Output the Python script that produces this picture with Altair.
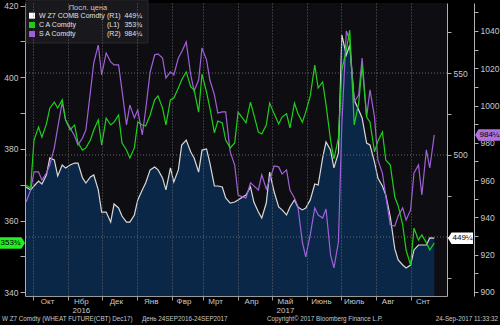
import altair as alt
import pandas as pd

# ---------------- data ----------------
wheat_r1 = [480.5, 478.7, 481.1, 484.1, 482.3, 487.8, 498.2, 497.0, 487.2, 493.9,
            492.1, 493.9, 495.1, 495.1, 486.0, 482.9, 486.6, 487.8, 478.7, 465.2,
            465.2, 459.1, 470.1, 467.7, 462.8, 459.1, 459.1, 463.4, 472.6, 478.7,
            482.9, 490.9, 492.7, 490.9, 486.0, 478.7, 492.1, 483.5, 490.9, 506.1,
            509.1, 501.8, 498.2, 489.6, 503.0, 503.7, 495.1, 481.1, 481.1, 480.5,
            473.8, 470.7, 471.3, 472.6, 474.4, 475.6, 480.5, 471.3, 465.2, 461.6,
            470.7, 489.6, 477.4, 468.3, 466.5, 463.4, 468.3, 472.6, 468.3, 466.5,
            467.7, 472.6, 482.3, 481.7, 498.2, 507.9, 503.0, 492.1, 501.2, 573.2,
            561.0, 567.1, 533.5, 527.4, 522.6, 507.3, 506.1, 495.7, 486.0, 481.1,
            475.6, 462.2, 442.7, 436.0, 432.9, 431.1, 432.9, 442.1, 445.1, 445.1,
            445.1, 449.4, 449.25]

corn_l1 = [369.9, 369.1, 382.5, 386.1, 383.3, 387.0, 391.4, 393.1, 391.4, 393.7,
           388.1, 385.3, 386.7, 381.7, 379.7, 380.3, 382.5, 385.3, 388.1, 381.1,
           388.6, 386.7, 387.5, 389.5, 381.7, 379.7, 377.5, 380.3, 387.5, 386.7,
           386.4, 389.5, 393.7, 394.8, 391.4, 386.7, 393.7, 394.2, 397.0, 399.3,
           401.5, 397.3, 396.5, 390.3, 400.9, 395.9, 391.4, 384.5, 387.8, 387.3,
           382.5, 380.3, 381.7, 390.3, 388.6, 387.3, 393.1, 389.5, 384.7, 384.2,
           386.7, 392.8, 389.8, 387.0, 388.9, 389.8, 385.9, 392.8, 390.0, 387.5,
           390.3, 394.8, 403.4, 397.0, 398.7, 392.3, 382.5, 377.2, 383.1, 402.0,
           407.6, 413.2, 386.7, 392.8, 403.4, 388.9, 387.5, 379.2, 382.2, 384.7,
           376.9, 375.5, 366.6, 364.1, 358.8, 351.8, 347.6, 357.9, 354.6, 356.0,
           353.8, 351.8, 353.75]

soy_r2 = [948.3, 954.7, 964.4, 964.4, 960.1, 963.8, 968.1, 977.3, 988.0, 1001.9,
          992.3, 988.0, 983.7, 978.9, 982.6, 986.9, 1007.3, 1022.9, 1032.5, 1016.4,
          1028.2, 1023.4, 1021.8, 1021.8, 1008.4, 989.6, 1000.3, 993.4, 997.6, 984.2,
          997.6, 1018.0, 1027.2, 1027.7, 1025.5, 1014.8, 1018.0, 1016.4, 1025.5, 1028.8,
          1034.1, 1016.4, 1007.8, 1013.7, 1030.9, 1024.5, 1013.7, 1005.7, 996.0, 996.6,
          996.6, 975.1, 968.1, 952.0, 951.0, 950.4, 958.5, 956.9, 954.7, 962.8,
          955.3, 960.1, 967.6, 967.1, 963.3, 965.5, 954.7, 950.4, 946.1, 926.8,
          918.8, 930.6, 945.1, 941.3, 939.7, 944.5, 919.9, 912.9, 926.8, 989.6,
          1040.0, 1035.2, 1001.9, 1005.7, 1025.5, 993.9, 1008.4, 993.9, 970.8, 963.8,
          951.5, 935.9, 935.4, 940.8, 945.1, 938.6, 944.0, 963.8, 968.1, 952.0,
          976.2, 966.5, 984.25]

sample_dates = (pd.date_range("2016-09-25", "2017-09-22", periods=len(wheat_r1))
                .round("D").strftime("%Y-%m-%d").tolist())

month_starts = ["2016-10-01", "2016-11-01", "2016-12-01", "2017-01-01", "2017-02-01",
                "2017-03-01", "2017-04-01", "2017-05-01", "2017-06-01", "2017-07-01",
                "2017-08-01", "2017-09-01"]
month_names = ["Окт", "Нбр", "Дек", "Янв", "Фвр", "Мрт", "Апр", "Май", "Июнь", "Июль", "Авг", "Снт"]
month_label_dates = ["2016-10-14", "2016-11-13", "2016-12-14", "2017-01-14", "2017-02-12",
                     "2017-03-12", "2017-04-13", "2017-05-13", "2017-06-14", "2017-07-13",
                     "2017-08-12", "2017-09-12"]
year_names = ["2016", "2017"]
year_dates = ["2016-11-13", "2017-05-13"]

last_values = [449.25, 353.75, 984.25]
last_labels = ["449¼", "353¾", "984¼"]
legend_names = ["W Z7 COMB Comdty", "C A Comdty", "S A Comdty"]
legend_axes = ["(R1)", "(L1)", "(R2)"]
series_colors = ["#ffffff", "#1fd01a", "#a060d8"]

footer = ["W Z7 Comdty (WHEAT FUTURE(CBT) Dec17)", "День 24SEP2016-24SEP2017",
          "Copyright© 2017 Bloomberg Finance L.P.", "24-Sep-2017 11:33:32"]

FONT = "Liberation Sans"
AX = "#c8c8c8"


def ms(s):
    return int(pd.Timestamp(s, tz="UTC").timestamp() * 1000)


df = pd.DataFrame({"date": sample_dates, "wheat": wheat_r1, "corn": corn_l1, "soy": soy_r2})

x_scale = alt.Scale(type="utc", domain=[ms("2016-09-24"), ms("2017-10-03T07:00")])
x_axis = alt.Axis(values=[ms(d) for d in month_starts], labels=False, title=None,
                  tickSize=4, tickColor="#9a9a9a", domainColor="#9a9a9a",
                  grid=True, gridColor="#707070", gridDash=[1, 2], gridOpacity=0.9, zindex=1)
X = alt.X("date:T", scale=x_scale, axis=x_axis)

r1_scale = alt.Scale(domain=[414.0, 592.7], nice=False, zero=False)
l1_scale = alt.Scale(domain=[338.97, 420.74], nice=False, zero=False)
r2_scale = alt.Scale(domain=[897.85, 1055.0], nice=False, zero=False)

common_axis = dict(title=None, grid=False, domainColor="#b0b0b0", tickColor="#b0b0b0",
                   labelColor=AX, labelFont=FONT, labelFontSize=8.5, labelPadding=2, format="d")
r1_axis = alt.Axis(orient="right", values=[425, 450, 475, 500, 525, 550, 575], tickSize=4,
                   labelExpr="datum.value == 500 || datum.value == 550 ? datum.label : ''",
                   **common_axis)
l1_axis = alt.Axis(orient="left", values=list(range(340, 421, 10)), tickSize=5,
                   labelExpr="datum.value % 20 == 0 ? datum.label : ''", **common_axis)
r2_axis = alt.Axis(orient="right", offset=27, values=list(range(900, 1051, 10)), tickSize=4,
                   labelExpr="datum.value % 20 == 0 ? datum.label : ''", **common_axis)

LEFT_FLAG = "M-1,0 L-0.72,-0.46 L1,-0.46 L1,0.46 L-0.72,0.46 Z"
RIGHT_FLAG = "M-1,-0.46 L0.72,-0.46 L1,0 L0.72,0.46 L-1,0.46 Z"


def flag(value, label, scale, axis, color, shape, xc, xt):
    d = pd.DataFrame({"v": [value], "t": [label]})
    y = alt.Y("v:Q", scale=scale, axis=axis)
    box = alt.Chart(d).mark_point(shape=shape, size=625, filled=True, opacity=1,
                                  color=color).encode(x=alt.value(xc), y=y)
    txt = alt.Chart(d).mark_text(font=FONT, fontSize=8, color="#000000", align="center",
                                 baseline="middle").encode(x=alt.value(xt), y=y, text="t:N")
    return box + txt


# wheat (R1) with area, horizontal grid
wheat_area = alt.Chart(df).mark_area(
    color="#0b2747", opacity=1, clip=True,
    line={"color": "#d8d8d8", "strokeWidth": 1.2}
).encode(x=X, y=alt.Y("wheat:Q", scale=r1_scale, axis=r1_axis))
hgrid = alt.Chart(pd.DataFrame({"g": [450, 500, 550]})).mark_rule(
    color="#707070", strokeDash=[1, 2], strokeWidth=1, opacity=0.9
).encode(y=alt.Y("g:Q", scale=r1_scale, axis=r1_axis))
wheat_group = alt.layer(wheat_area, hgrid,
                        flag(last_values[0], last_labels[0], r1_scale, r1_axis, "#ffffff",
                             LEFT_FLAG, 435.5, 437.5))

soy_line = alt.Chart(df).mark_line(color=series_colors[2], strokeWidth=1.2, clip=True).encode(
    x=X, y=alt.Y("soy:Q", scale=r2_scale, axis=r2_axis))
soy_group = alt.layer(soy_line,
                      flag(last_values[2], last_labels[2], r2_scale, r2_axis, "#b070e0",
                           LEFT_FLAG, 462.5, 464.5))

corn_line = alt.Chart(df).mark_line(color=series_colors[1], strokeWidth=1.2, clip=True).encode(
    x=X, y=alt.Y("corn:Q", scale=l1_scale, axis=l1_axis))
corn_group = alt.layer(corn_line,
                       flag(last_values[1], last_labels[1], l1_scale, l1_axis, "#22ee22",
                            RIGHT_FLAG, -12.5, -14.5))


def txt(text, x, y, size=8, color=AX, align="left", weight="normal"):
    return alt.Chart(pd.DataFrame({"t": [text]})).mark_text(
        font=FONT, fontSize=size, color=color, align=align, baseline="middle",
        fontWeight=weight).encode(x=alt.value(x), y=alt.value(y), text="t:N")


month_df = pd.DataFrame({"date": month_label_dates, "name": month_names})
month_text = alt.Chart(month_df).mark_text(font=FONT, fontSize=8, color=AX, baseline="middle").encode(
    x=X, y=alt.value(299), text="name:N")
year_df = pd.DataFrame({"date": year_dates, "name": year_names})
year_text = alt.Chart(year_df).mark_text(font=FONT, fontSize=8, color=AX, baseline="middle").encode(
    x=X, y=alt.value(308), text="name:N")

# legend box
legend_box = alt.Chart(pd.DataFrame({"a": [0]})).mark_rect(
    color="#1b1b1e", opacity=0.92, stroke="#2a2a2e").encode(
    x=alt.value(1), x2=alt.value(123), y=alt.value(-3), y2=alt.value(40))
legend_layers = [legend_box, txt("Посл. цена", 63, 5, size=7.5, align="center")]
row_y = [12.7, 22, 31]
for i in range(3):
    legend_layers.append(
        alt.Chart(pd.DataFrame({"a": [0]})).mark_rect(color=series_colors[i]).encode(
            x=alt.value(4), x2=alt.value(10), y=alt.value(row_y[i] - 3), y2=alt.value(row_y[i] + 3)))
    legend_layers.append(txt(legend_names[i], 14, row_y[i], size=7, color="#e0e0e0"))
    legend_layers.append(txt(legend_axes[i], 82, row_y[i], size=7, color="#e0e0e0"))
    legend_layers.append(txt(last_labels[i], 117, row_y[i], size=7, color="#e0e0e0", align="right"))

footer_layers = [
    txt(footer[0], -23, 316, size=6.3, color=AX),
    txt(footer[1], 117, 316, size=6.3, color=AX),
    txt(footer[2], 242, 316, size=6.3, color=AX),
    txt(footer[3], 473, 316, size=6.3, color=AX, align="right"),
]

chart = alt.layer(
    wheat_group, soy_group, corn_group, month_text, year_text,
    *legend_layers, *footer_layers
).resolve_scale(y="independent").properties(
    width=422, height=293,
    autosize=alt.AutoSizeParams(type="none"),
    padding={"left": 25, "top": 3, "right": 53, "bottom": 29},
).configure(background="#000000").configure_view(fill="#0e0e12", stroke=None)

chart.save("out.html", embed_options={"renderer": "svg", "actions": False})
